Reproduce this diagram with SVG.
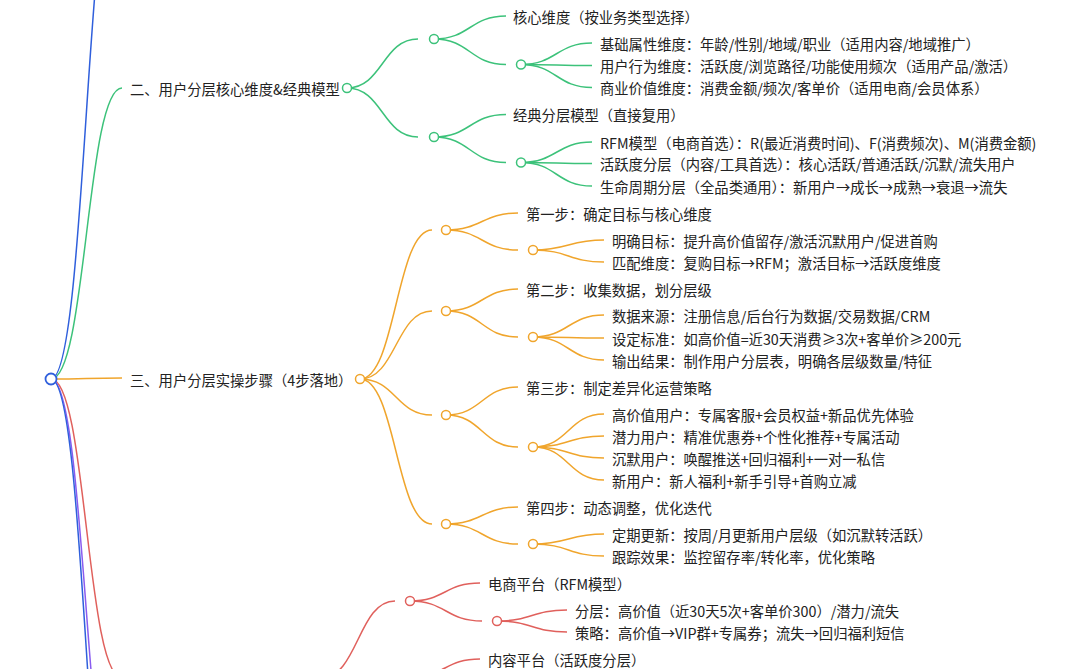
<svg xmlns="http://www.w3.org/2000/svg" width="1080" height="669" viewBox="0 0 1080 669">
<style>
.l{fill:none;stroke-width:1.5}
.g{stroke:#3cc27a}.o{stroke:#f0a52c}.r{stroke:#e0605c}.b{stroke:#2f5fdc}.p{stroke:#8a5cf0}
circle{fill:#fff;stroke-width:1.5}
text{font-family:"Noto Sans CJK SC","Noto Sans",sans-serif;font-size:14.3px;fill:#222;dominant-baseline:central}
</style>
<rect width="1080" height="669" fill="#fff"/>
<g id="connectors">
<path class="l b" d="M51 379 C86.5 379 86.5 -157 122 -157"/>
<path class="l g" d="M51 379 C86.5 379 86.5 88 122 88"/>
<path class="l o" d="M51 379 C86.5 379 86.5 378 122 378"/>
<path class="l r" d="M51 379 C86.5 379 86.5 678 122 678"/>
<path class="l p" d="M51 379 C86.5 379 86.5 847 122 847"/>
<path class="l b" d="M51 379 C86.5 379 86.5 926 122 926"/>
<path class="l g" d="M347 88 C382.5 88 382.5 39 418 39"/>
<path class="l g" d="M347 88 C382.5 88 382.5 137 418 137"/>
<path class="l g" d="M434 39 C470 39 470 16 506 16"/>
<path class="l g" d="M434 39 C470 39 470 64.5 506 64.5"/>
<path class="l g" d="M521 64.5 C556.5 64.5 556.5 43 592 43"/>
<path class="l g" d="M521 64.5 C556.5 64.5 556.5 65.5 592 65.5"/>
<path class="l g" d="M521 64.5 C556.5 64.5 556.5 87.5 592 87.5"/>
<path class="l g" d="M434 137 C470 137 470 114.5 506 114.5"/>
<path class="l g" d="M434 137 C470 137 470 162.5 506 162.5"/>
<path class="l g" d="M521 162.5 C556.5 162.5 556.5 142 592 142"/>
<path class="l g" d="M521 162.5 C556.5 162.5 556.5 163.5 592 163.5"/>
<path class="l g" d="M521 162.5 C556.5 162.5 556.5 186 592 186"/>
<path class="l o" d="M360 379 C396 379 396 230 432 230"/>
<path class="l o" d="M360 379 C396 379 396 311 432 311"/>
<path class="l o" d="M360 379 C396 379 396 415 432 415"/>
<path class="l o" d="M360 379 C396 379 396 524 432 524"/>
<path class="l o" d="M446 230 C482 230 482 213 518 213"/>
<path class="l o" d="M446 230 C482 230 482 250 518 250"/>
<path class="l o" d="M533 250 C568.5 250 568.5 240 604 240"/>
<path class="l o" d="M533 250 C568.5 250 568.5 262 604 262"/>
<path class="l o" d="M446 311 C482 311 482 289 518 289"/>
<path class="l o" d="M446 311 C482 311 482 337 518 337"/>
<path class="l o" d="M533 337 C568.5 337 568.5 315 604 315"/>
<path class="l o" d="M533 337 C568.5 337 568.5 338 604 338"/>
<path class="l o" d="M533 337 C568.5 337 568.5 360 604 360"/>
<path class="l o" d="M446 415 C482 415 482 387 518 387"/>
<path class="l o" d="M446 415 C482 415 482 447 518 447"/>
<path class="l o" d="M533 447 C568.5 447 568.5 414 604 414"/>
<path class="l o" d="M533 447 C568.5 447 568.5 436 604 436"/>
<path class="l o" d="M533 447 C568.5 447 568.5 458 604 458"/>
<path class="l o" d="M533 447 C568.5 447 568.5 480 604 480"/>
<path class="l o" d="M446 524 C482 524 482 507 518 507"/>
<path class="l o" d="M446 524 C482 524 482 544 518 544"/>
<path class="l o" d="M533 544 C568.5 544 568.5 534 604 534"/>
<path class="l o" d="M533 544 C568.5 544 568.5 556 604 556"/>
<path class="l r" d="M321 678 C358 678 358 601 395 601"/>
<path class="l r" d="M321 678 C358 678 358 677 395 677"/>
<path class="l r" d="M410 601 C445 601 445 583 480 583"/>
<path class="l r" d="M410 601 C446 601 446 621 482 621"/>
<path class="l r" d="M497 621 C532 621 532 610 567 610"/>
<path class="l r" d="M497 621 C532 621 532 632 567 632"/>
<path class="l r" d="M410 677 C445 677 445 659 480 659"/>
</g>
<g id="root"><circle cx="51" cy="379" r="5.5" class="b" style="stroke-width:1.8"/></g>
<g id="n2">
<text x="130" y="88">二、用户分层核心维度&amp;经典模型</text>
<circle cx="347" cy="88" r="4.5" class="g"/>
</g>
<g id="n2a">
<circle cx="434" cy="39" r="4.5" class="g"/>
<text x="513" y="16">核心维度（按业务类型选择）</text>
<circle cx="521" cy="64.5" r="4.5" class="g"/>
<text x="600" y="43">基础属性维度：年龄/性别/地域/职业（适用内容/地域推广）</text>
<text x="600" y="65.5">用户行为维度：活跃度/浏览路径/功能使用频次（适用产品/激活）</text>
<text x="600" y="87.5">商业价值维度：消费金额/频次/客单价（适用电商/会员体系）</text>
</g>
<g id="n2b">
<circle cx="434" cy="137" r="4.5" class="g"/>
<text x="513" y="114.5">经典分层模型（直接复用）</text>
<circle cx="521" cy="162.5" r="4.5" class="g"/>
<text x="600" y="142">RFM模型（电商首选）：R(最近消费时间)、F(消费频次)、M(消费金额)</text>
<text x="600" y="163.5">活跃度分层（内容/工具首选）：核心活跃/普通活跃/沉默/流失用户</text>
<text x="600" y="186">生命周期分层（全品类通用）：新用户→成长→成熟→衰退→流失</text>
</g>
<g id="n3">
<text x="130" y="379">三、用户分层实操步骤（4步落地）</text>
<circle cx="360" cy="379" r="4.5" class="o"/>
</g>
<g id="n3a">
<circle cx="446" cy="230" r="4.5" class="o"/>
<text x="526" y="213">第一步：确定目标与核心维度</text>
<circle cx="533" cy="250" r="4.5" class="o"/>
<text x="612" y="240">明确目标：提升高价值留存/激活沉默用户/促进首购</text>
<text x="612" y="262">匹配维度：复购目标→RFM；激活目标→活跃度维度</text>
</g>
<g id="n3b">
<circle cx="446" cy="311" r="4.5" class="o"/>
<text x="526" y="289">第二步：收集数据，划分层级</text>
<circle cx="533" cy="337" r="4.5" class="o"/>
<text x="612" y="315">数据来源：注册信息/后台行为数据/交易数据/CRM</text>
<text x="612" y="338">设定标准：如高价值=近30天消费≥3次+客单价≥200元</text>
<text x="612" y="360">输出结果：制作用户分层表，明确各层级数量/特征</text>
</g>
<g id="n3c">
<circle cx="446" cy="415" r="4.5" class="o"/>
<text x="526" y="387">第三步：制定差异化运营策略</text>
<circle cx="533" cy="447" r="4.5" class="o"/>
<text x="612" y="414">高价值用户：专属客服+会员权益+新品优先体验</text>
<text x="612" y="436">潜力用户：精准优惠券+个性化推荐+专属活动</text>
<text x="612" y="458">沉默用户：唤醒推送+回归福利+一对一私信</text>
<text x="612" y="480">新用户：新人福利+新手引导+首购立减</text>
</g>
<g id="n3d">
<circle cx="446" cy="524" r="4.5" class="o"/>
<text x="526" y="507">第四步：动态调整，优化迭代</text>
<circle cx="533" cy="544" r="4.5" class="o"/>
<text x="612" y="534">定期更新：按周/月更新用户层级（如沉默转活跃）</text>
<text x="612" y="556">跟踪效果：监控留存率/转化率，优化策略</text>
</g>
<g id="n4a">
<circle cx="410" cy="601" r="4.5" class="r"/>
<text x="488" y="583">电商平台（RFM模型）</text>
<circle cx="497" cy="621" r="4.5" class="r"/>
<text x="575" y="610">分层：高价值（近30天5次+客单价300）/潜力/流失</text>
<text x="575" y="632">策略：高价值→VIP群+专属券；流失→回归福利短信</text>
</g>
<g id="n4b">
<text x="488" y="659">内容平台（活跃度分层）</text>
</g>
</svg>
